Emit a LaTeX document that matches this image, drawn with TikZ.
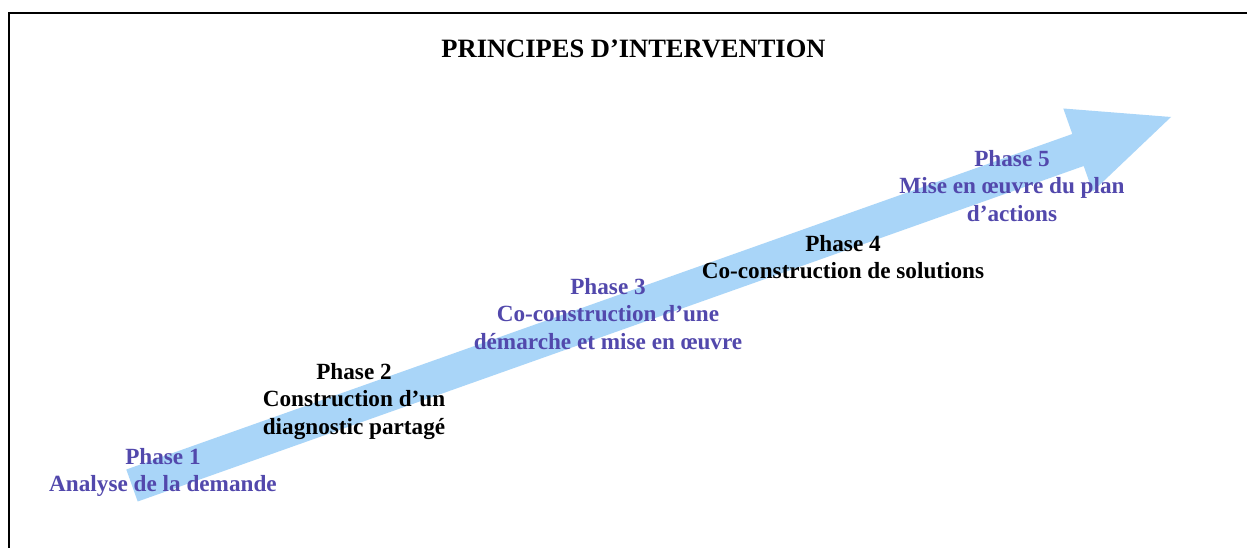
\documentclass[tikz,border=0pt]{standalone}
\usepackage{fontspec}
\setmainfont{Liberation Serif}
\definecolor{arrowblue}{RGB}{169,213,248}
\definecolor{phasepurple}{RGB}{82,72,172}
\tikzset{
  phase/.style={align=center, inner sep=0pt, font=\bfseries\fontsize{23.2}{27.8}\selectfont},
  purpletxt/.style={phase, text=phasepurple},
  blacktxt/.style={phase, text=black},
}
\begin{document}
\begin{tikzpicture}[x=1pt,y=-1pt]
\useasboundingbox (0,0) rectangle (1247,548);
\clip (0,0) rectangle (1247,548);
\fill[white] (0,0) rectangle (1247,548);
\draw[line width=2pt] (9,560) -- (9,13) -- (1260,13);
% big arrow
\fill[arrowblue] (126.3,469.5) -- (1072.3,134) -- (1063.3,108.5) -- (1171,117)
  -- (1092.7,191.5) -- (1083.7,166) -- (137.7,501.5) -- cycle;
\node[font=\bfseries\fontsize{26.5}{30}\selectfont] (title) at (633.5,49) {PRINCIPES D’INTERVENTION};
\node[purpletxt] (p1) at (163,472.5) {Phase 1\\Analyse de la demande};
\node[blacktxt] (p2) at (354,401.5) {Phase 2\\Construction d’un\\diagnostic partagé};
\node[purpletxt] (p3) at (608,314) {Phase 3\\Co-construction d’une\\démarche et mise en œuvre};
\node[blacktxt] (p4) at (843,257) {Phase 4\\Co-construction de solutions};
\node[purpletxt] (p5) at (1012,186) {Phase 5\\Mise en œuvre du plan\\d’actions};
\end{tikzpicture}
\end{document}
